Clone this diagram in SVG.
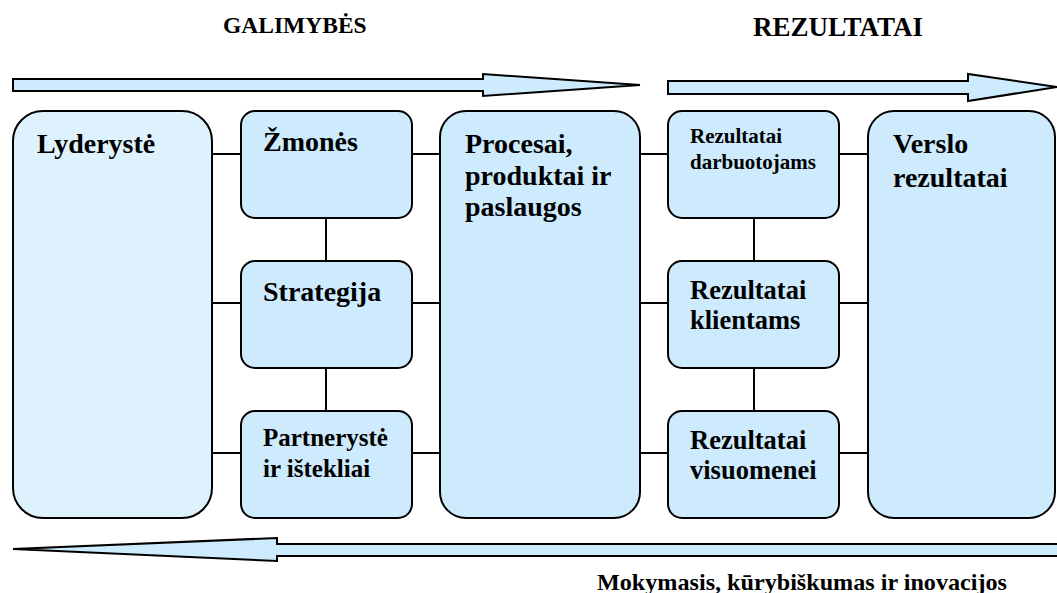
<svg xmlns="http://www.w3.org/2000/svg" width="1057" height="593" viewBox="0 0 1057 593">
  <style>
    .box { fill: #cdebfd; stroke: #000; stroke-width: 2; }
    .box-light { fill: #def2fd; stroke: #000; stroke-width: 2; }
    .flow { fill: #cdebfd; stroke: #000; stroke-width: 2; stroke-linejoin: miter; }
    .link { stroke: #000; stroke-width: 2; fill: none; }
    text { font-family: "Liberation Serif", "Times New Roman", serif; font-weight: bold; fill: #000; }
    .t28 { font-size: 28px; }
    .t26 { font-size: 26.5px; }
    .t25 { font-size: 25px; }
    .t21 { font-size: 21px; }
  </style>

  <!-- headings -->
  <text x="223" y="33" font-size="23.5">GALIMYBĖS</text>
  <text x="753" y="36" font-size="27">REZULTATAI</text>

  <!-- flow arrows -->
  <g id="flow-arrows">
    <polygon class="flow" points="13,79 483,79 483,74 640,85 483,96 483,91 13,91"/>
    <polygon class="flow" points="668,81 968,81 968,74 1057,87 968,101 968,94 668,94"/>
    <polygon class="flow" points="1062,544 277,544 277,538 13,549 277,561 277,556 1062,556"/>
  </g>

  <!-- connectors -->
  <g id="connectors">
    <line class="link" x1="212" y1="154" x2="241" y2="154"/>
    <line class="link" x1="412" y1="154" x2="440" y2="154"/>
    <line class="link" x1="640" y1="154" x2="668" y2="154"/>
    <line class="link" x1="839" y1="154" x2="868" y2="154"/>
    <line class="link" x1="212" y1="303" x2="241" y2="303"/>
    <line class="link" x1="412" y1="303" x2="440" y2="303"/>
    <line class="link" x1="640" y1="303" x2="668" y2="303"/>
    <line class="link" x1="839" y1="303" x2="868" y2="303"/>
    <line class="link" x1="212" y1="453" x2="241" y2="453"/>
    <line class="link" x1="412" y1="453" x2="440" y2="453"/>
    <line class="link" x1="640" y1="453" x2="668" y2="453"/>
    <line class="link" x1="839" y1="453" x2="868" y2="453"/>
    <line class="link" x1="326" y1="218" x2="326" y2="261"/>
    <line class="link" x1="326" y1="368" x2="326" y2="411"/>
    <line class="link" x1="754" y1="218" x2="754" y2="261"/>
    <line class="link" x1="754" y1="368" x2="754" y2="411"/>
  </g>

  <g id="lyderyste">
    <rect class="box-light" x="13" y="111" width="199" height="407" rx="30" ry="30"/>
    <text class="t28" x="37" y="153">Lyderystė</text>
  </g>

  <g id="zmones">
    <rect class="box" x="241" y="111" width="171" height="107" rx="14" ry="14"/>
    <text class="t28" x="263" y="151">Žmonės</text>
  </g>

  <g id="strategija">
    <rect class="box" x="241" y="261" width="171" height="107" rx="14" ry="14"/>
    <text class="t28" x="263" y="301">Strategija</text>
  </g>

  <g id="partneryste">
    <rect class="box" x="241" y="411" width="171" height="107" rx="14" ry="14"/>
    <text class="t25" x="263" y="446">Partnerystė</text>
    <text class="t25" x="263" y="477">ir ištekliai</text>
  </g>

  <g id="procesai">
    <rect class="box" x="440" y="111" width="200" height="407" rx="26" ry="26"/>
    <text class="t28" x="465" y="153">Procesai,</text>
    <text class="t28" x="465" y="185">produktai ir</text>
    <text class="t28" x="465" y="216">paslaugos</text>
  </g>

  <g id="rezultatai-darbuotojams">
    <rect class="box" x="668" y="111" width="171" height="107" rx="14" ry="14"/>
    <text class="t21" x="690" y="143">Rezultatai</text>
    <text class="t21" x="690" y="169">darbuotojams</text>
  </g>

  <g id="rezultatai-klientams">
    <rect class="box" x="668" y="261" width="171" height="107" rx="14" ry="14"/>
    <text class="t26" x="690" y="299">Rezultatai</text>
    <text class="t26" x="690" y="329">klientams</text>
  </g>

  <g id="rezultatai-visuomenei">
    <rect class="box" x="668" y="411" width="171" height="107" rx="14" ry="14"/>
    <text class="t26" x="690" y="449">Rezultatai</text>
    <text class="t26" x="690" y="479">visuomenei</text>
  </g>

  <g id="verslo-rezultatai">
    <rect class="box" x="868" y="111" width="187" height="407" rx="26" ry="26"/>
    <text class="t28" x="893" y="153">Verslo</text>
    <text class="t28" x="893" y="187">rezultatai</text>
  </g>

  <text x="597" y="590" font-size="24" textLength="410" lengthAdjust="spacingAndGlyphs">Mokymasis, kūrybiškumas ir inovacijos</text>
</svg>
